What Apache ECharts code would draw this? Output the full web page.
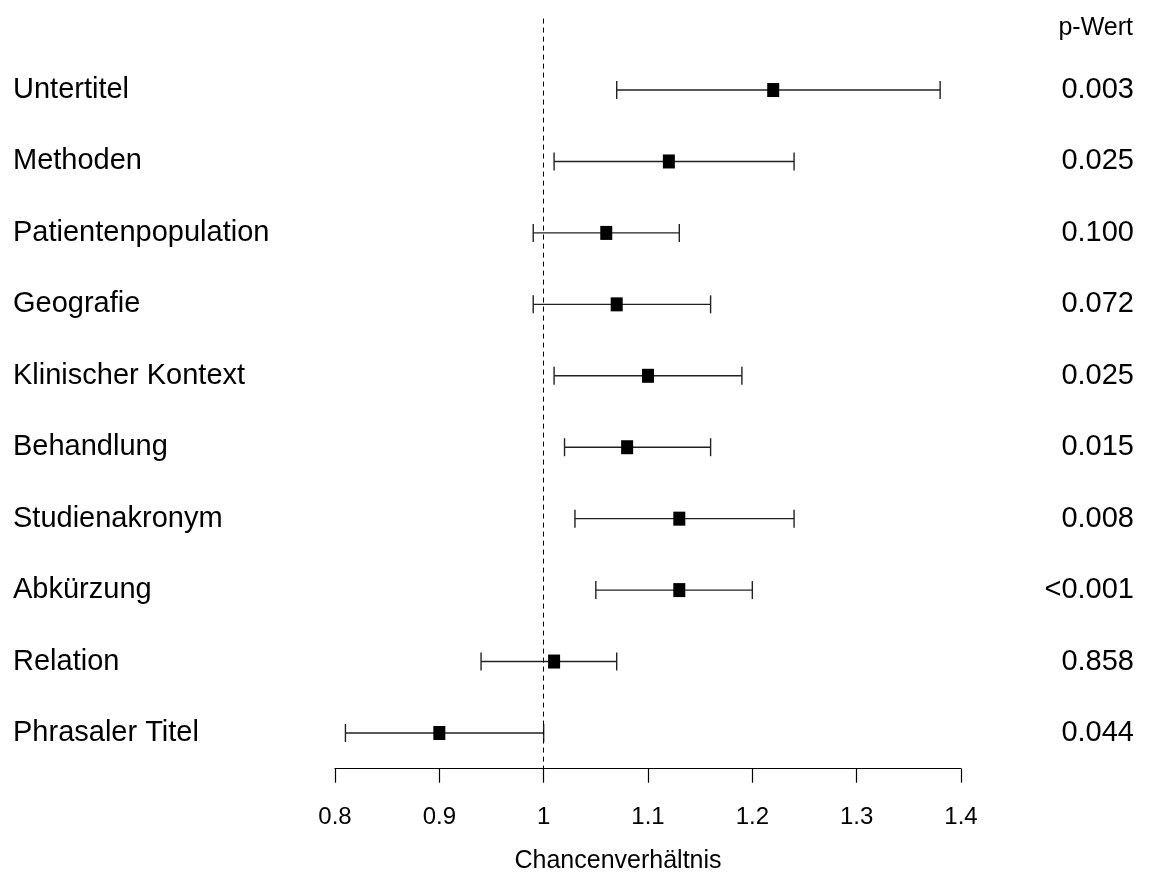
<!DOCTYPE html>
<html>
<head>
<meta charset="utf-8">
<script src="https://cdn.jsdelivr.net/npm/echarts@6/dist/echarts.min.js"></script>
<style>html,body{margin:0;padding:0;background:#fff;}#c{width:1150px;height:875px;}</style>
</head>
<body>
<div id="c"></div>
<script>
const categories = ['Untertitel','Methoden','Patientenpopulation','Geografie','Klinischer Kontext','Behandlung','Studienakronym','Abkürzung','Relation','Phrasaler Titel'];
const oddsRatio = [1.22, 1.12, 1.06, 1.07, 1.10, 1.08, 1.13, 1.13, 1.01, 0.90];
const lower = [1.07, 1.01, 0.99, 0.99, 1.01, 1.02, 1.03, 1.05, 0.94, 0.81];
const upper = [1.38, 1.24, 1.13, 1.16, 1.19, 1.16, 1.24, 1.20, 1.07, 1.00];
const pValues = ['0.003','0.025','0.100','0.072','0.025','0.015','0.008','<0.001','0.858','0.044'];
const xTicks = [0.8, 0.9, 1.0, 1.1, 1.2, 1.3, 1.4];

const FONT = 'Liberation Sans, Arial, sans-serif';
const chart = echarts.init(document.getElementById('c'), null, {renderer: 'canvas'});

const ciData = categories.map((c, i) => [lower[i], upper[i], i + 1]);
const ptData = categories.map((c, i) => [oddsRatio[i], i + 1]);

function rowLabel(arr) {
  return function (v) {
    if (Math.abs(v - Math.round(v)) < 1e-9) {
      const k = Math.round(v);
      if (k >= 1 && k <= arr.length) return arr[k - 1];
    }
    return '';
  };
}

chart.setOption({
  animation: false,
  backgroundColor: '#fff',
  title: {
    text: 'p-Wert', right: 12, top: 11,
    textStyle: {fontFamily: FONT, fontSize: 25, fontWeight: 'normal', color: '#000'}
  },
  grid: {left: 335, right: 189, top: 18.6, bottom: 106.3, containLabel: false, outerBoundsMode: 'none'},
  xAxis: {
    type: 'value', min: 0.8, max: 1.4, interval: 0.1, position: 'bottom',
    axisLine: {show: true, onZero: false, lineStyle: {color: '#000', width: 1.2}},
    axisTick: {show: true, length: 14, lineStyle: {color: '#000', width: 1.2}},
    splitLine: {show: false},
    axisLabel: {
      margin: 37, fontFamily: FONT, fontSize: 24, color: '#000',
      formatter: function (v) {
        const m = xTicks.find(t => Math.abs(t - v) < 1e-9);
        if (m === undefined) return '';
        return Math.abs(m - 1) < 1e-9 ? '1' : String(m);
      }
    },
    name: 'Chancenverhältnis', nameLocation: 'middle', nameGap: 80,
    nameTextStyle: {fontFamily: FONT, fontSize: 25, color: '#000', padding: [0, 60, 0, 0]}
  },
  yAxis: [{
    type: 'value', min: 0, max: 10.5, interval: 1, inverse: true, position: 'left',
    axisLine: {show: false}, axisTick: {show: false}, splitLine: {show: false},
    axisLabel: {align: 'left', margin: 322, fontFamily: FONT, fontSize: 29, color: '#000', formatter: rowLabel(categories)}
  }, {
    type: 'value', min: 0, max: 10.5, interval: 1, inverse: true, position: 'right',
    axisLine: {show: false}, axisTick: {show: false}, splitLine: {show: false},
    axisLabel: {align: 'right', margin: 173, fontFamily: FONT, fontSize: 29, color: '#000', formatter: rowLabel(pValues)}
  }],
  series: [{
    type: 'custom',
    yAxisIndex: 0,
    data: ciData,
    encode: {x: [0, 1], y: 2},
    renderItem: function (params, api) {
      const y = api.value(2);
      const p1 = api.coord([api.value(0), y]);
      const p2 = api.coord([api.value(1), y]);
      const h = 9;
      const style = {stroke: '#222', lineWidth: 1.4};
      return {
        type: 'group',
        children: [
          {type: 'line', shape: {x1: p1[0], y1: p1[1], x2: p2[0], y2: p2[1]}, style: style},
          {type: 'line', shape: {x1: p1[0], y1: p1[1] - h, x2: p1[0], y2: p1[1] + h}, style: style},
          {type: 'line', shape: {x1: p2[0], y1: p2[1] - h, x2: p2[0], y2: p2[1] + h}, style: style}
        ]
      };
    },
    z: 2
  }, {
    type: 'scatter',
    yAxisIndex: 0,
    data: ptData,
    symbol: 'rect',
    symbolSize: [12, 14],
    itemStyle: {color: '#000', opacity: 1},
    z: 3,
    markLine: {
      silent: true, symbol: 'none',
      label: {show: false},
      lineStyle: {type: [5, 4], color: '#000', width: 1, opacity: 1},
      data: [{xAxis: 1}]
    }
  }]
});
</script>
</body>
</html>
